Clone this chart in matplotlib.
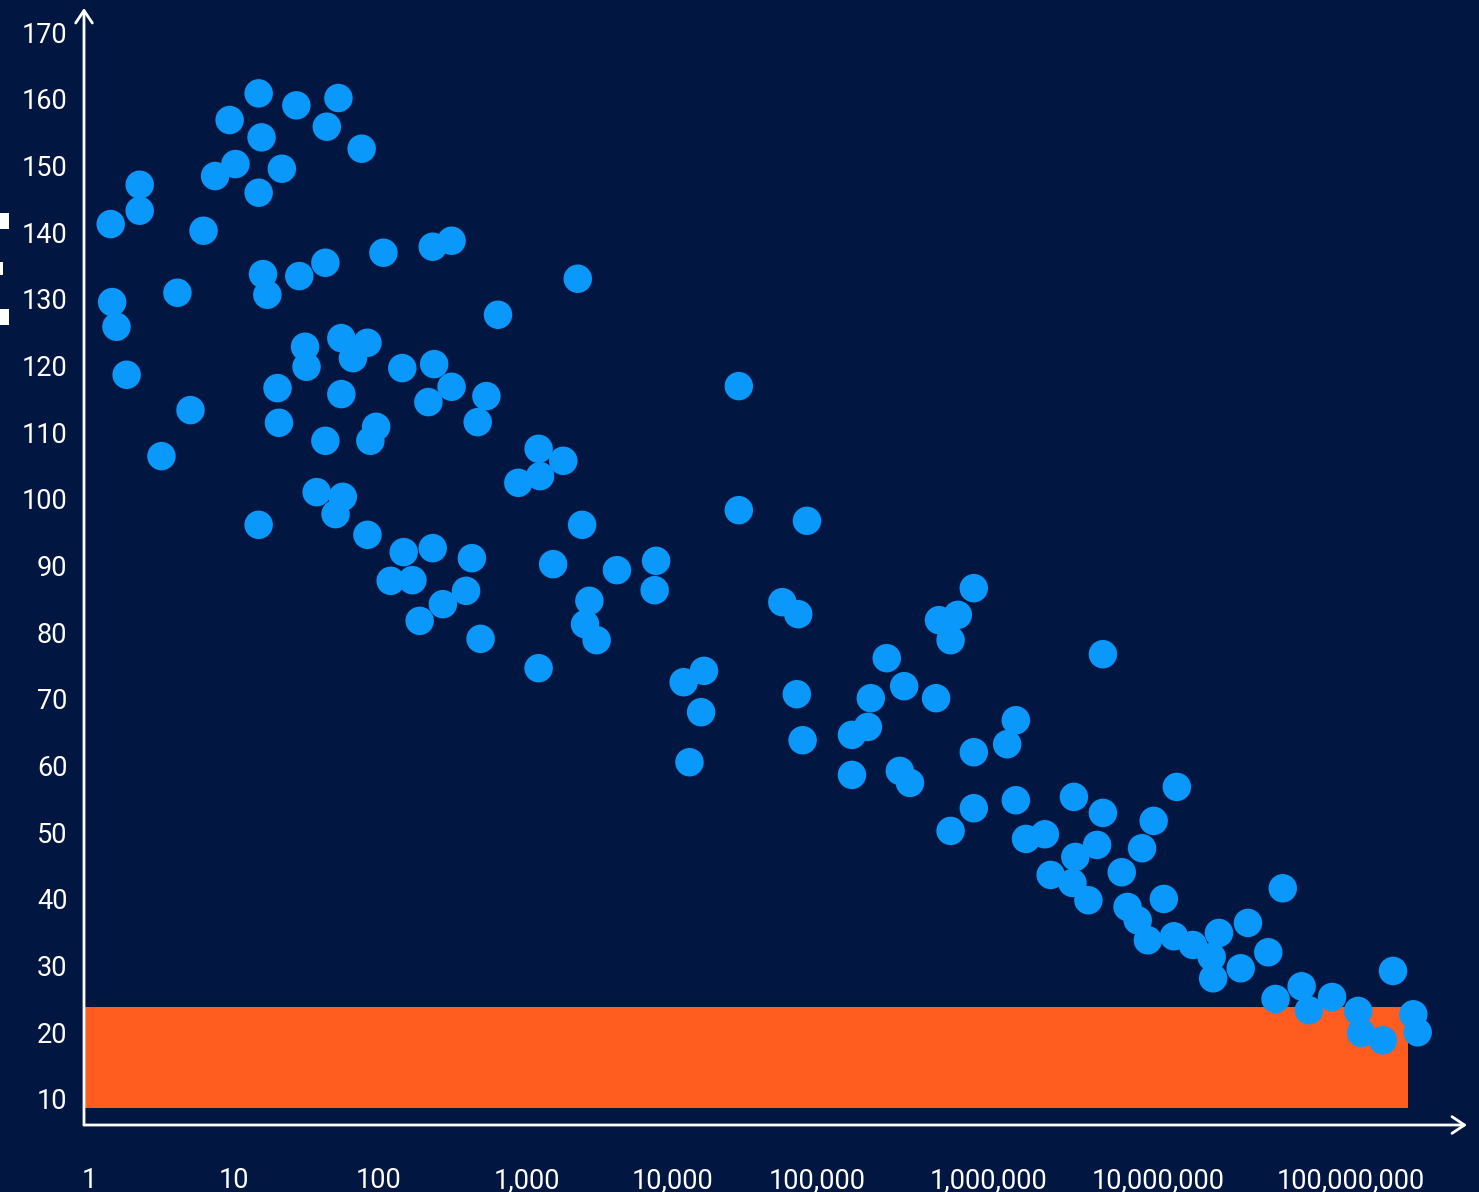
import matplotlib
matplotlib.use("Agg")
import matplotlib.pyplot as plt
from matplotlib.patches import Rectangle

# x values are in "decade" units along the axis (0 = 1, 1 = 10, ...)
xs = [0.15, 0.16, 0.19, 0.26, 0.35, 0.35, 0.50, 0.61, 0.70, 0.79,
      0.87, 0.97, 1.01, 1.17, 1.19, 1.17, 1.33, 1.43, 1.64, 1.72,
      1.88, 1.20, 1.23, 1.45, 1.63, 2.03, 2.37, 2.50, 1.49, 1.50,
      1.74, 1.82, 1.92, 1.30, 1.74, 1.31, 1.63, 1.98, 1.94, 2.16,
      2.38, 2.50, 2.34, 2.74, 2.68, 1.17, 1.57, 1.75, 1.70, 1.92,
      2.17, 2.37, 2.64, 2.08, 2.23, 2.28, 2.44, 2.60, 2.70, 2.82,
      3.37, 3.10, 3.27, 2.96, 3.11, 3.40, 3.20, 3.64, 3.91, 3.90,
      3.45, 3.42, 3.50, 3.10, 4.10, 4.24, 4.22, 4.14, 4.48, 4.48,
      4.95, 4.78, 4.89, 4.88, 4.92, 5.26, 5.37, 5.26, 5.50, 5.39,
      5.62, 5.59, 5.66, 5.84, 5.86, 5.99, 5.94, 6.10, 6.10, 5.94,
      6.10, 6.39, 6.33, 6.39, 6.99, 6.46, 6.59, 6.63, 6.79, 6.80,
      6.78, 6.89, 6.95, 6.99, 7.26, 7.34, 7.50, 7.12, 7.16, 7.23,
      7.30, 7.41, 7.48, 7.61, 7.79, 7.74, 7.75, 7.94, 7.99, 8.13,
      8.23, 8.18, 8.36, 8.41, 8.57, 8.75, 8.77, 8.92, 8.99, 9.13,
      9.16]
ys = [141.2, 129.5, 125.8, 118.6, 147.1, 143.2, 106.4, 130.9, 113.3, 140.2,
      148.4, 156.8, 150.2, 160.8, 154.2, 145.9, 149.5, 159.0, 155.8, 160.1,
      152.5, 133.7, 130.6, 133.4, 135.4, 136.9, 137.8, 138.7, 122.8, 119.8,
      124.1, 121.1, 123.4, 116.6, 115.7, 111.4, 108.7, 110.8, 108.7, 119.6,
      120.2, 116.8, 114.5, 115.4, 111.5, 96.1, 101.0, 100.3, 97.7, 94.6,
      92.0, 92.6, 91.1, 87.7, 87.8, 81.7, 84.2, 86.2, 79.0, 127.6,
      133.0, 107.5, 105.7, 102.4, 103.4, 96.1, 90.2, 89.3, 90.7, 86.3,
      84.7, 81.2, 78.8, 74.6, 72.5, 74.2, 68.0, 60.5, 116.9, 98.3,
      96.7, 84.5, 82.7, 70.7, 63.8, 64.6, 65.8, 58.6, 76.1, 70.1,
      71.9, 59.2, 57.4, 70.1, 81.8, 82.6, 78.8, 86.6, 62.0, 50.2,
      53.6, 66.8, 63.2, 54.8, 76.7, 49.0, 49.7, 43.6, 55.3, 46.3,
      42.4, 39.8, 48.1, 52.9, 47.6, 51.7, 56.8, 44.0, 38.8, 36.8,
      33.8, 40.0, 34.4, 33.1, 34.9, 31.3, 28.1, 29.6, 36.4, 32.0,
      41.6, 25.0, 26.9, 23.3, 25.3, 23.2, 19.9, 18.8, 29.2, 22.7,
      20.0]

x_tick_pos = [0.0, 1.0, 2.0, 3.02, 4.02, 5.02, 6.2, 7.37, 8.7]
x_tick_labels = ["1", "10", "100", "1,000", "10,000", "100,000",
                 "1,000,000", "10,000,000", "100,000,000"]
y_ticks = list(range(10, 180, 10))

band_low, band_high, band_end = 8.6, 23.8, 9.09

bg = "#011741"
dot_color = "#0A98FB"
orange = "#FF5C1F"

plt.rcParams['font.family'] = ['Roboto', 'DejaVu Sans']

fig = plt.figure(figsize=(14.79, 11.92), dpi=100, facecolor=bg)
ax = fig.add_axes([84 / 1479, 67 / 1192, 1383 / 1479, 1117 / 1192])
ax.set_facecolor(bg)

ax.set_xlim(-0.034, 9.5)
ax.set_ylim(6.1, 173.6)

ax.fill_between([-0.034, band_end], band_low, band_high, color=orange, lw=0, zorder=1)
ax.scatter(xs, ys, s=420, color=dot_color, edgecolors='none', zorder=3)

for s in ax.spines.values():
    s.set_visible(False)

ax.set_xticks(x_tick_pos)
ax.set_xticklabels(x_tick_labels)
ax.set_yticks(y_ticks)
ax.tick_params(axis='both', length=0, colors='white', labelsize=19.5)
ax.tick_params(axis='y', pad=12)
ax.tick_params(axis='x', pad=30)

# axis lines with open arrow heads
arrow = dict(arrowstyle='->,head_length=0.9,head_width=0.6', color='white', lw=2,
             shrinkA=0, shrinkB=0)
ax.annotate('', xy=(0, 1), xytext=(0, 0), xycoords='axes fraction', arrowprops=arrow,
            annotation_clip=False)
ax.annotate('', xy=(1, 0), xytext=(0, 0), xycoords='axes fraction', arrowprops=arrow,
            annotation_clip=False)

# small white marks cut off at the left edge
for (y0, h, w) in [(213, 16, 9), (262, 13, 3), (309, 16, 9)]:
    fig.add_artist(Rectangle((0, 1 - (y0 + h) / 1192), w / 1479, h / 1192,
                             transform=fig.transFigure, color='white', lw=0))

fig.savefig("out.png", dpi=100, facecolor=bg)
